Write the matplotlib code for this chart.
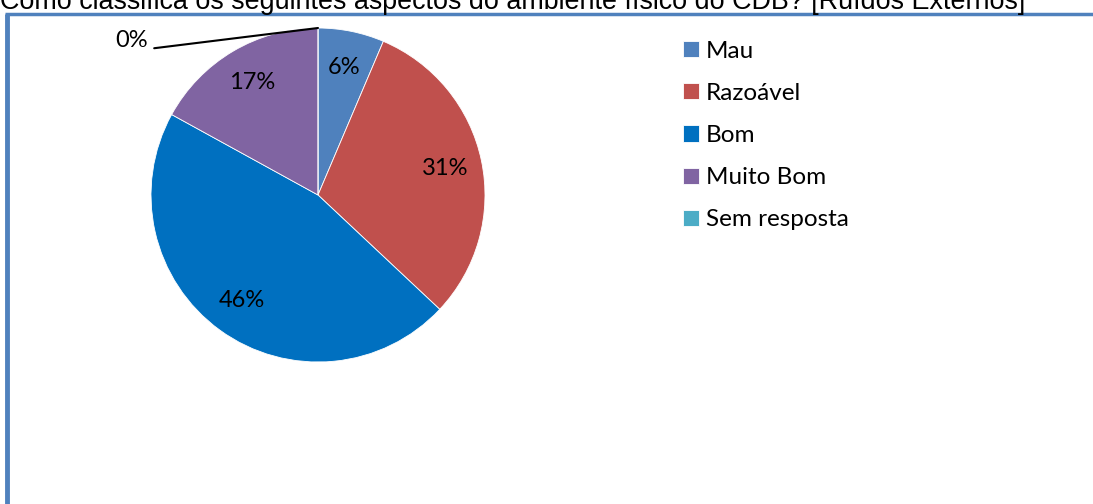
import numpy as np
import matplotlib.pyplot as plt
from matplotlib.lines import Line2D

categorias = ["Mau", "Razoável", "Bom", "Muito Bom", "Sem resposta"]
percentagens = [6.4, 30.6, 46.0, 17.0, 0.0]
cores = ["#4F81BD", "#C0504D", "#0070C0", "#8064A2", "#4BACC6"]
titulo = "Como classifica os seguintes aspectos do ambiente físico do CDB? [Ruídos Externos]"

W, H = 1093, 504
fig = plt.figure(figsize=(W / 100, H / 100), dpi=100)

# pie centre and radius in pixels
cx, cy, r = 318, 195, 167
ax = fig.add_axes([(cx - r) / W, (H - cy - r) / H, 2 * r / W, 2 * r / H])

def fmt(p):
    return "" if p < 0.5 else "%.0f%%" % p

wedges, texts, autotexts = ax.pie(percentagens, colors=cores, startangle=90,
                                  counterclock=False, autopct=fmt, pctdistance=0.78,
                                  wedgeprops=dict(linewidth=0.6, edgecolor="white"),
                                  textprops=dict(fontsize=17, family="Lato"))
ax.set_xlim(-1, 1)
ax.set_ylim(-1, 1)
ax.set_aspect("equal")

# label for the empty slice, with a leader line
for w, p in zip(wedges, percentagens):
    if p < 0.5:
        ang = np.deg2rad(w.theta1)
        ax.annotate("%.0f%%" % p, xy=(np.cos(ang), np.sin(ang)), xytext=(-1.02, 0.86),
                    ha="right", va="bottom", fontsize=17, family="Lato",
                    arrowprops=dict(arrowstyle="-", color="black", lw=1.5,
                                    shrinkA=0, shrinkB=0, relpos=(1.2, 0.15)),
                    annotation_clip=False)

fig.legend(wedges, categorias, loc="upper left", bbox_to_anchor=(673 / W, 1 - 31 / H),
           frameon=False, prop=dict(family="Lato", size=17.5), handlelength=0.65,
           handleheight=0.65, handletextpad=0.3, labelspacing=0.87, borderaxespad=0)

# chart frame (only left and top edges visible)
fig.add_artist(Line2D([7 / W, 7 / W], [0, 1 - 14 / H], color="#4F81BD", lw=3.5,
                      transform=fig.transFigure, solid_capstyle="butt"))
fig.add_artist(Line2D([5 / W, 1], [1 - 14 / H, 1 - 14 / H], color="#4F81BD", lw=2.5,
                      transform=fig.transFigure, solid_capstyle="butt"))

fig.text(0, 1 - 9 / H, titulo, fontsize=19.4, family="Liberation Sans",
         ha="left", va="baseline")

fig.savefig("out.png", dpi=100)
